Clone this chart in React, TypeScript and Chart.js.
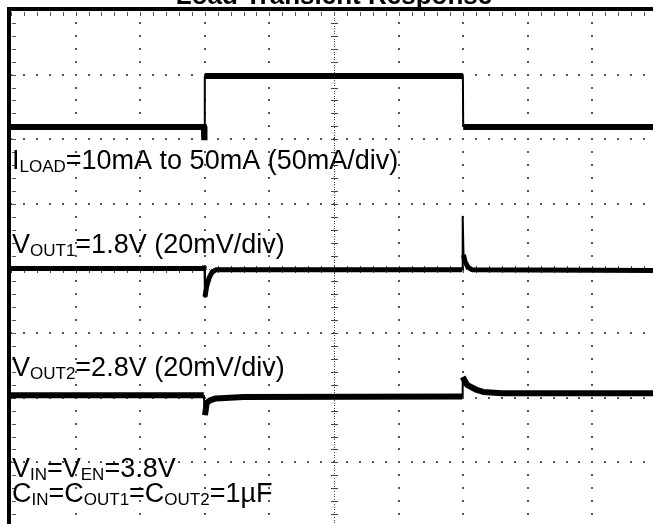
import React, { useEffect, useRef } from "react";
import { Chart, registerables } from "chart.js";

Chart.register(...registerables);

// Oscilloscope screen: 10 horizontal x 8 vertical divisions
const titleText = "Load Transient Response";
const xDivisions = 10;
const yDivisions = 8;
const minorPerDiv = 5;

// Traces, in screen divisions (x: time div, y: vertical div from bottom)
const iLoadX = [0, 2.985, 2.99, 2.995, 3.0, 6.995, 7.0, 10];
const iLoadY = [6.19, 6.19, 6.03, 6.2, 6.98, 6.98, 6.19, 6.19];

const vOut1X = [0, 2.985, 2.995, 3.003, 3.03, 3.065, 3.11, 3.17, 3.55, 6.985, 6.992, 7.005, 7.03, 7.075, 7.135, 10];
const vOut1Y = [4.0, 4.0, 4.04, 3.56, 3.73, 3.85, 3.94, 3.98, 3.98, 3.98, 4.8, 4.21, 4.1, 4.02, 3.98, 3.97];

const vOut2X = [0, 2.985, 3.003, 3.03, 3.08, 3.17, 3.6, 6.985, 6.992, 7.06, 7.21, 7.31, 7.6, 10];
const vOut2Y = [2.04, 2.04, 1.73, 1.92, 1.96, 1.99, 2.01, 2.02, 2.32, 2.2, 2.12, 2.09, 2.07, 2.07];

// Annotation texts (segments; sub = subscript)
type Seg = { t: string; sub?: boolean };
const labelLines: Seg[][] = [
  [{ t: "I" }, { t: "LOAD", sub: true }, { t: "=10mA to 50mA (50mA/div)" }],
  [{ t: "V" }, { t: "OUT1", sub: true }, { t: "=1.8V (20mV/div)" }],
  [{ t: "V" }, { t: "OUT2", sub: true }, { t: "=2.8V (20mV/div)" }],
  [{ t: "V" }, { t: "IN", sub: true }, { t: "=V" }, { t: "EN", sub: true }, { t: "=3.8V" }],
  [{ t: "C" }, { t: "IN", sub: true }, { t: "=C" }, { t: "OUT1", sub: true }, { t: "=C" }, { t: "OUT2", sub: true }, { t: "=1µF" }],
];
// baseline of each label line, in vertical divisions
const labelBaselines = [5.54, 4.24, 2.33, 0.77, 0.38];

const FONT = '"Liberation Sans", Arial, Helvetica, sans-serif';

const toPoints = (xs: number[], ys: number[]) => xs.map((x, i) => ({ x, y: ys[i] }));

const scopePlugin = {
  id: "scopePlugin",
  beforeDatasetsDraw(chart: any) {
    const { ctx, chartArea: a, scales } = chart;
    const x = scales.x;
    const y = scales.y;
    ctx.save();
    // dotted grid
    ctx.fillStyle = "#555";
    for (let i = 1; i < xDivisions; i++) {
      if (i === xDivisions / 2) continue;
      const px = Math.round(x.getPixelForValue(i));
      for (let j = 0; j <= yDivisions * minorPerDiv; j++) {
        const py = Math.round(y.getPixelForValue(j / minorPerDiv));
        ctx.fillRect(px - 1, py - 1, 2, 2);
      }
    }
    for (let i = 1; i < yDivisions; i++) {
      if (i === yDivisions / 2) continue;
      const py = Math.round(y.getPixelForValue(i));
      for (let j = 0; j <= xDivisions * minorPerDiv; j++) {
        const px = Math.round(x.getPixelForValue(j / minorPerDiv));
        ctx.fillRect(px - 1, py - 1, 2, 2);
      }
    }
    // centre crosshair
    ctx.fillStyle = "#444";
    const cx = Math.round(x.getPixelForValue(xDivisions / 2));
    const cy = Math.round(y.getPixelForValue(yDivisions / 2));
    for (let py = a.top; py <= a.bottom; py += 2.6) ctx.fillRect(cx, Math.round(py), 1, 1);
    for (let px = a.left; px <= a.right; px += 2.6) ctx.fillRect(Math.round(px), cy, 1, 1);
    for (let j = 0; j <= yDivisions * minorPerDiv; j++) {
      const py = Math.round(y.getPixelForValue(j / minorPerDiv));
      ctx.fillRect(cx - 3, py, 7, 1);
    }
    for (let j = 0; j <= xDivisions * minorPerDiv; j++) {
      const px = Math.round(x.getPixelForValue(j / minorPerDiv));
      ctx.fillRect(px, cy - 3, 1, 7);
    }
    // edge ticks
    ctx.fillStyle = "#555";
    for (let j = 0; j <= xDivisions * minorPerDiv; j++) {
      const px = Math.round(x.getPixelForValue(j / minorPerDiv));
      ctx.fillRect(px, a.top + 2, 1, 4);
    }
    for (let j = 0; j <= yDivisions * minorPerDiv; j++) {
      const py = Math.round(y.getPixelForValue(j / minorPerDiv));
      ctx.fillRect(a.left + 1, py, 4, 1);
    }
    ctx.restore();
  },
  afterDraw(chart: any) {
    const { ctx, chartArea: a, scales } = chart;
    const y = scales.y;
    ctx.save();
    // frame (left and top visible)
    ctx.fillStyle = "#000";
    ctx.fillRect(a.left - 4, a.top - 3, 4, a.bottom - a.top + 3);
    ctx.fillRect(a.left - 4, a.top - 3, a.right - a.left + 4, 4);
    ctx.fillRect(a.right, a.top - 3, 4, a.bottom - a.top + 3);
    ctx.fillRect(a.left - 4, a.bottom, a.right - a.left + 8, 4);
    // title
    ctx.font = `bold 26px ${FONT}`;
    ctx.textAlign = "center";
    ctx.textBaseline = "alphabetic";
    ctx.fillText(titleText, (a.left + a.right) / 2, a.top - 6);
    // labels
    ctx.textAlign = "left";
    labelLines.forEach((segs, k) => {
      const by = y.getPixelForValue(labelBaselines[k]);
      let cx = a.left + 1;
      segs.forEach((s) => {
        ctx.font = `${s.sub ? 17 : 27}px ${FONT}`;
        ctx.fillText(s.t, cx, by + (s.sub ? 3 : 0));
        cx += ctx.measureText(s.t).width;
      });
    });
    ctx.restore();
  },
};

const thinSpikes = (w: number) => (c: any) =>
  Math.abs(c.p1.parsed.y - c.p0.parsed.y) > 0.25 ? 2 : w;

export default function App() {
  const ref = useRef<HTMLCanvasElement | null>(null);
  useEffect(() => {
    if (!ref.current) return;
    const chart = new Chart(ref.current, {
      type: "line",
      data: {
        datasets: [
          {
            label: "ILOAD",
            data: toPoints(iLoadX, iLoadY),
            borderColor: "#000",
            borderWidth: 6,
            pointRadius: 0,
            tension: 0,
            segment: { borderWidth: thinSpikes(6) },
          },
          {
            label: "VOUT1",
            data: toPoints(vOut1X, vOut1Y),
            borderColor: "#000",
            borderWidth: 5,
            pointRadius: 0,
            tension: 0,
            borderJoinStyle: "round",
            segment: { borderWidth: thinSpikes(5) },
          },
          {
            label: "VOUT2",
            data: toPoints(vOut2X, vOut2Y),
            borderColor: "#000",
            borderWidth: 6,
            pointRadius: 0,
            tension: 0,
            borderJoinStyle: "round",
            segment: { borderWidth: thinSpikes(6) },
          },
        ],
      },
      options: {
        animation: false,
        responsive: false,
        devicePixelRatio: 1,
        layout: { padding: { left: 11, top: 40, right: 23, bottom: 23 } },
        plugins: { legend: { display: false }, tooltip: { enabled: false }, title: { display: false } },
        scales: {
          x: { type: "linear", min: 0, max: xDivisions, display: false },
          y: { type: "linear", min: 0, max: yDivisions, display: false },
        },
      },
      plugins: [scopePlugin],
    } as any);
    return () => chart.destroy();
  }, []);
  return (
    <div style={{ position: "fixed", left: 0, top: 0, width: 653, height: 524, overflow: "hidden", background: "#fff" }}>
      <canvas ref={ref} width={680} height={580} style={{ position: "absolute", left: 0, top: -30, width: 680, height: 580 }} />
    </div>
  );
}
